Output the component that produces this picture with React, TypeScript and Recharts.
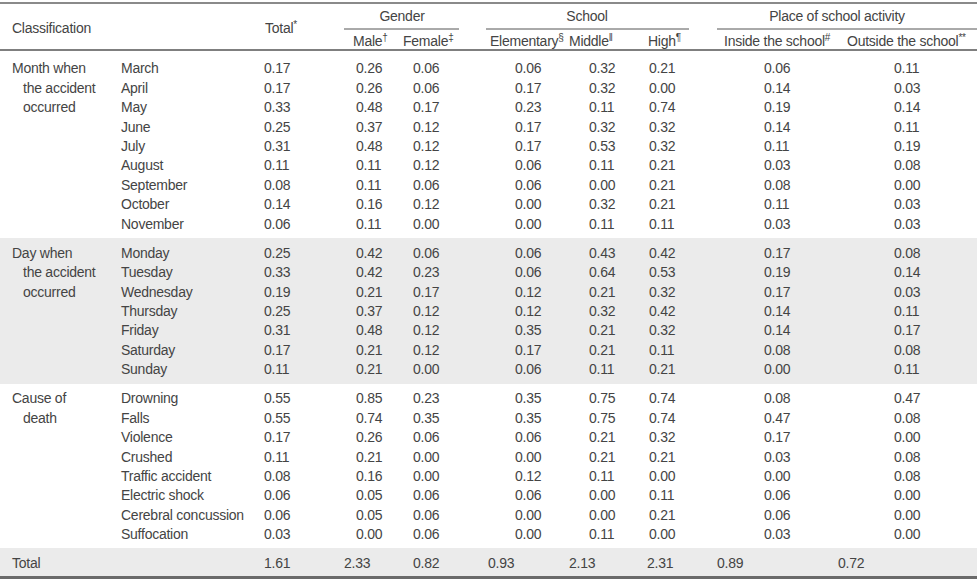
import React from 'react';
import { ScatterChart, Scatter, XAxis, YAxis, ReferenceArea, ReferenceLine } from 'recharts';

// row labels
const months = ['March', 'April', 'May', 'June', 'July', 'August', 'September', 'October', 'November'];
const days = ['Monday', 'Tuesday', 'Wednesday', 'Thursday', 'Friday', 'Saturday', 'Sunday'];
const causes = ['Drowning', 'Falls', 'Violence', 'Crushed', 'Traffic accident', 'Electric shock', 'Cerebral concussion', 'Suffocation'];

// month section: total, male, female, elementary, middle, high, inside, outside
const monthTotal = [0.17, 0.17, 0.33, 0.25, 0.31, 0.11, 0.08, 0.14, 0.06];
const monthMale = [0.26, 0.26, 0.48, 0.37, 0.48, 0.11, 0.11, 0.16, 0.11];
const monthFemale = [0.06, 0.06, 0.17, 0.12, 0.12, 0.12, 0.06, 0.12, 0.0];
const monthElem = [0.06, 0.17, 0.23, 0.17, 0.17, 0.06, 0.06, 0.0, 0.0];
const monthMiddle = [0.32, 0.32, 0.11, 0.32, 0.53, 0.11, 0.0, 0.32, 0.11];
const monthHigh = [0.21, 0.0, 0.74, 0.32, 0.32, 0.21, 0.21, 0.21, 0.11];
const monthInside = [0.06, 0.14, 0.19, 0.14, 0.11, 0.03, 0.08, 0.11, 0.03];
const monthOutside = [0.11, 0.03, 0.14, 0.11, 0.19, 0.08, 0.0, 0.03, 0.03];

// day section
const dayTotal = [0.25, 0.33, 0.19, 0.25, 0.31, 0.17, 0.11];
const dayMale = [0.42, 0.42, 0.21, 0.37, 0.48, 0.21, 0.21];
const dayFemale = [0.06, 0.23, 0.17, 0.12, 0.12, 0.12, 0.0];
const dayElem = [0.06, 0.06, 0.12, 0.12, 0.35, 0.17, 0.06];
const dayMiddle = [0.43, 0.64, 0.21, 0.32, 0.21, 0.21, 0.11];
const dayHigh = [0.42, 0.53, 0.32, 0.42, 0.32, 0.11, 0.21];
const dayInside = [0.17, 0.19, 0.17, 0.14, 0.14, 0.08, 0.0];
const dayOutside = [0.08, 0.14, 0.03, 0.11, 0.17, 0.08, 0.11];

// cause section
const causeTotal = [0.55, 0.55, 0.17, 0.11, 0.08, 0.06, 0.06, 0.03];
const causeMale = [0.85, 0.74, 0.26, 0.21, 0.16, 0.05, 0.05, 0.0];
const causeFemale = [0.23, 0.35, 0.06, 0.0, 0.0, 0.06, 0.06, 0.06];
const causeElem = [0.35, 0.35, 0.06, 0.0, 0.12, 0.06, 0.0, 0.0];
const causeMiddle = [0.75, 0.75, 0.21, 0.21, 0.11, 0.0, 0.0, 0.11];
const causeHigh = [0.74, 0.74, 0.32, 0.21, 0.0, 0.11, 0.21, 0.0];
const causeInside = [0.08, 0.47, 0.17, 0.03, 0.0, 0.06, 0.06, 0.03];
const causeOutside = [0.47, 0.08, 0.0, 0.08, 0.08, 0.0, 0.0, 0.0];

const grandTotals = [1.61, 2.33, 0.82, 0.93, 2.13, 2.31, 0.89, 0.72];

// ---- layout (pixels) ----
const W = 977;
const H = 581;
const FONT = '"Liberation Sans", Arial, sans-serif';
const INK = '#444';
const BAND = '#ebebeb';
const ROW_STEP = 19.4;
const COL_X = [264, 356, 413, 515, 589, 649, 764, 894];
const TOTAL_X = [264, 344, 413, 488, 569, 647, 717, 838];
const SECTION_Y = [68.3, 252.7, 398.3];

type Cell = { x: number; y: number; text: string; sup?: string; anchor?: string };

const sections = [
  { group: ['Month when', 'the accident', 'occurred'], rows: months, cols: [monthTotal, monthMale, monthFemale, monthElem, monthMiddle, monthHigh, monthInside, monthOutside] },
  { group: ['Day when', 'the accident', 'occurred'], rows: days, cols: [dayTotal, dayMale, dayFemale, dayElem, dayMiddle, dayHigh, dayInside, dayOutside] },
  { group: ['Cause of', 'death'], rows: causes, cols: [causeTotal, causeMale, causeFemale, causeElem, causeMiddle, causeHigh, causeInside, causeOutside] },
];

const bodyCells: Cell[] = [];
sections.forEach((s, si) => {
  const y0 = SECTION_Y[si];
  s.group.forEach((g, i) => bodyCells.push({ x: i === 0 ? 12 : 23, y: y0 + i * ROW_STEP, text: g }));
  s.rows.forEach((r, ri) => {
    const y = y0 + ri * ROW_STEP;
    bodyCells.push({ x: 121, y, text: r });
    s.cols.forEach((col, ci) => bodyCells.push({ x: COL_X[ci], y, text: col[ri].toFixed(2) }));
  });
});
bodyCells.push({ x: 12, y: 562.7, text: 'Total' });
grandTotals.forEach((v, i) => bodyCells.push({ x: TOTAL_X[i], y: 562.7, text: v.toFixed(2) }));

const headerCells: Cell[] = [
  { x: 12, y: 28, text: 'Classification' },
  { x: 265, y: 28, text: 'Total', sup: '*' },
  { x: 402, y: 16, text: 'Gender', anchor: 'middle' },
  { x: 587, y: 16, text: 'School', anchor: 'middle' },
  { x: 837, y: 16, text: 'Place of school activity', anchor: 'middle' },
  { x: 353, y: 40.5, text: 'Male', sup: '†' },
  { x: 403, y: 40.5, text: 'Female', sup: '‡' },
  { x: 490, y: 40.5, text: 'Elementary', sup: '§' },
  { x: 569, y: 40.5, text: 'Middle', sup: '‖' },
  { x: 648, y: 40.5, text: 'High', sup: '¶' },
  { x: 724, y: 40.5, text: 'Inside the school', sup: '#' },
  { x: 847, y: 40.5, text: 'Outside the school', sup: '**' },
];

const TextCell = (props: any) => {
  const { cx, cy, payload } = props;
  return (
    <text x={cx} y={cy} dy="0.36em" textAnchor={payload.anchor || 'start'} fontFamily={FONT} fontSize={14} fill={INK} letterSpacing={-0.25}>
      {payload.text}
      {payload.sup ? (
        <tspan fontSize={10} dy={-5}>{payload.sup}</tspan>
      ) : null}
    </text>
  );
};

const App: React.FC = () => (
  <div style={{ position: 'absolute', left: 0, top: 0, width: W, height: H, background: '#fff' }}>
    <ScatterChart width={W} height={H} margin={{ top: 0, right: 0, bottom: 0, left: 0 }}>
      <XAxis type="number" dataKey="x" domain={[0, W]} hide allowDataOverflow />
      <YAxis type="number" dataKey="y" domain={[0, H]} reversed hide allowDataOverflow />
      <ReferenceArea x1={0} x2={W} y1={238} y2={384} fill={BAND} fillOpacity={1} stroke="none" />
      <ReferenceArea x1={0} x2={W} y1={548} y2={577} fill={BAND} fillOpacity={1} stroke="none" />
      <ReferenceLine y={3} stroke="#8a8a8a" strokeWidth={2} />
      <ReferenceLine y={50} stroke="#555" strokeWidth={1.3} />
      <ReferenceLine y={577.5} stroke="#6a6a6a" strokeWidth={3} />
      <ReferenceLine segment={[{ x: 344, y: 29 }, { x: 459, y: 29 }]} stroke="#555" strokeWidth={1} />
      <ReferenceLine segment={[{ x: 486, y: 29 }, { x: 689, y: 29 }]} stroke="#555" strokeWidth={1} />
      <ReferenceLine segment={[{ x: 717, y: 29 }, { x: W, y: 29 }]} stroke="#555" strokeWidth={1} />
      <Scatter data={headerCells} shape={TextCell} isAnimationActive={false} />
      <Scatter data={bodyCells} shape={TextCell} isAnimationActive={false} />
    </ScatterChart>
  </div>
);

export default App;
